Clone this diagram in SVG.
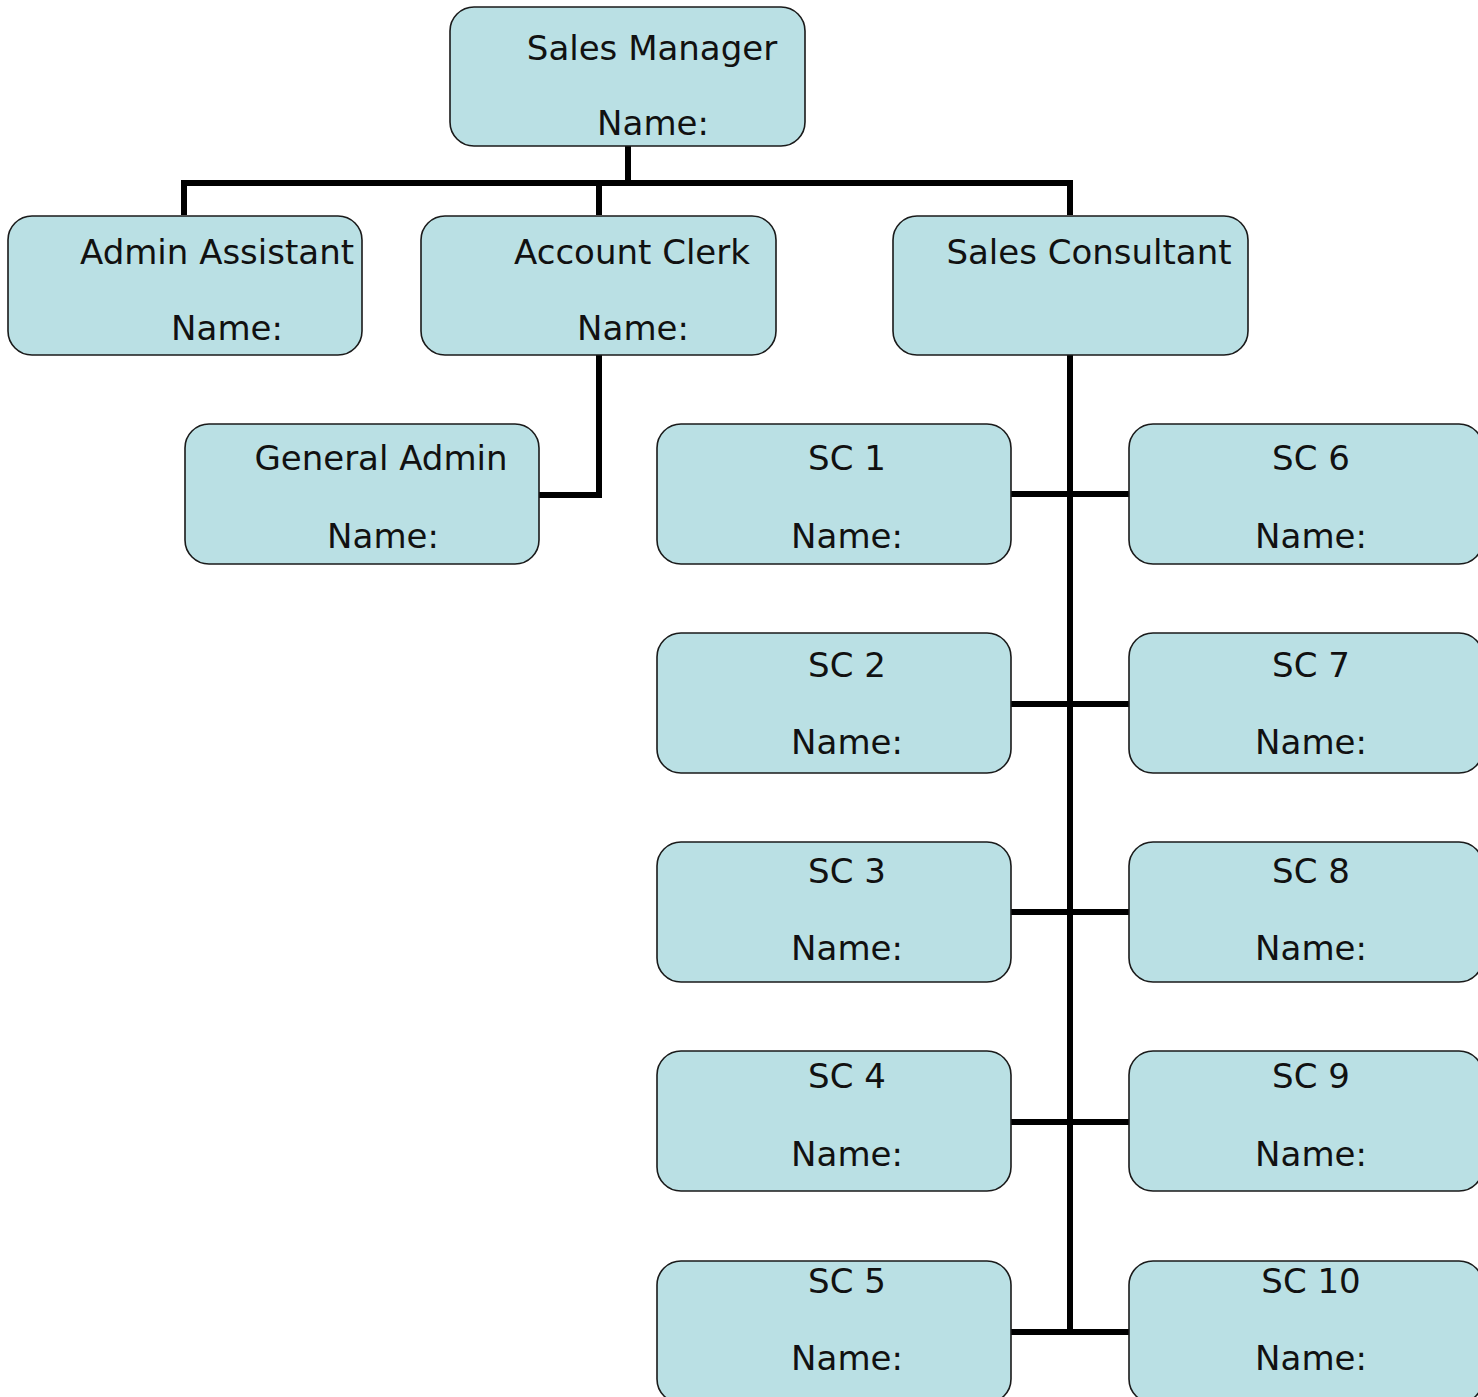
<svg xmlns="http://www.w3.org/2000/svg" width="1478" height="1397" viewBox="0 0 1478 1397">
<style>
.box{fill:#BAE0E4;stroke:#1a1a1a;stroke-width:1.6}
.t{font-family:"DejaVu Sans","Liberation Sans",sans-serif;font-size:34px;fill:#111;text-anchor:middle}
.c{fill:none;stroke:#000;stroke-width:6;stroke-linecap:butt}
</style>
<rect width="1478" height="1397" fill="#fff"/>
<g id="connectors">
<path class="c" d="M628 146V183M184 183H1073M184 180V215M599 180V215M1070 180V215"/>
<path class="c" d="M599 355V495H539"/>
<path class="c" d="M1070 355V1335"/>
<path class="c" d="M1011 494H1129M1011 704H1129M1011 912H1129M1011 1122H1129M1011 1332H1129"/>
</g>
<g id="sales-manager"><rect class="box" x="450" y="7" width="355" height="139" rx="24"/><text class="t" x="652" y="60">Sales Manager</text><text class="t" x="653" y="135">Name:</text></g>
<g id="admin-assistant"><rect class="box" x="8" y="216" width="354" height="139" rx="24"/><text class="t" x="217" y="264">Admin Assistant</text><text class="t" x="227" y="340">Name:</text></g>
<g id="account-clerk"><rect class="box" x="421" y="216" width="355" height="139" rx="24"/><text class="t" x="632" y="264">Account Clerk</text><text class="t" x="633" y="340">Name:</text></g>
<g id="sales-consultant"><rect class="box" x="893" y="216" width="355" height="139" rx="24"/><text class="t" x="1089" y="264">Sales Consultant</text></g>
<g id="general-admin"><rect class="box" x="185" y="424" width="354" height="140" rx="24"/><text class="t" x="381" y="470">General Admin</text><text class="t" x="383" y="548">Name:</text></g>
<g id="sc1"><rect class="box" x="657" y="424" width="354" height="140" rx="24"/><text class="t" x="847" y="470">SC 1</text><text class="t" x="847" y="548">Name:</text></g>
<g id="sc2"><rect class="box" x="657" y="633" width="354" height="140" rx="24"/><text class="t" x="847" y="677">SC 2</text><text class="t" x="847" y="754">Name:</text></g>
<g id="sc3"><rect class="box" x="657" y="842" width="354" height="140" rx="24"/><text class="t" x="847" y="883">SC 3</text><text class="t" x="847" y="960">Name:</text></g>
<g id="sc4"><rect class="box" x="657" y="1051" width="354" height="140" rx="24"/><text class="t" x="847" y="1088">SC 4</text><text class="t" x="847" y="1166">Name:</text></g>
<g id="sc5"><rect class="box" x="657" y="1261" width="354" height="142" rx="24"/><text class="t" x="847" y="1293">SC 5</text><text class="t" x="847" y="1370">Name:</text></g>
<g id="sc6"><rect class="box" x="1129" y="424" width="354" height="140" rx="24"/><text class="t" x="1311" y="470">SC 6</text><text class="t" x="1311" y="548">Name:</text></g>
<g id="sc7"><rect class="box" x="1129" y="633" width="354" height="140" rx="24"/><text class="t" x="1311" y="677">SC 7</text><text class="t" x="1311" y="754">Name:</text></g>
<g id="sc8"><rect class="box" x="1129" y="842" width="354" height="140" rx="24"/><text class="t" x="1311" y="883">SC 8</text><text class="t" x="1311" y="960">Name:</text></g>
<g id="sc9"><rect class="box" x="1129" y="1051" width="354" height="140" rx="24"/><text class="t" x="1311" y="1088">SC 9</text><text class="t" x="1311" y="1166">Name:</text></g>
<g id="sc10"><rect class="box" x="1129" y="1261" width="354" height="142" rx="24"/><text class="t" x="1311" y="1293">SC 10</text><text class="t" x="1311" y="1370">Name:</text></g>
</svg>
